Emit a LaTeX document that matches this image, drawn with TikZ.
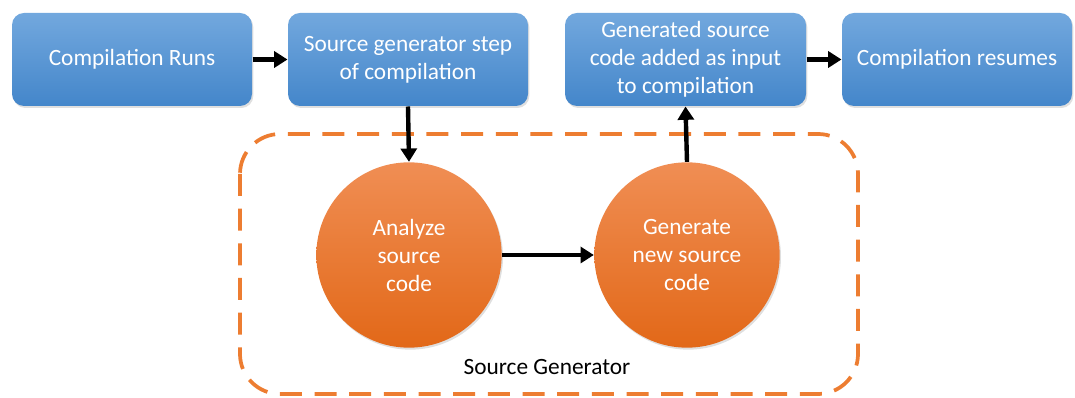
\documentclass[tikz,border=0pt]{standalone}
\usepackage{fontspec}
\setmainfont{Carlito}
\usetikzlibrary{arrows.meta,shadows}

\definecolor{boxtop}{RGB}{114,168,222}
\definecolor{boxbot}{RGB}{68,134,202}
\definecolor{ovaltop}{RGB}{240,142,84}
\definecolor{ovalbot}{RGB}{226,104,24}
\definecolor{dashorange}{RGB}{237,125,49}

\tikzset{every picture/.style={line width=0.75pt}}
\tikzset{
  stepbox/.style={rounded corners=9pt, top color=boxtop, bottom color=boxbot, draw=none,
    minimum height=69.75pt, text=white, align=center,
    font=\fontsize{17.5}{21}\selectfont,
    drop shadow={opacity=0.25, shadow xshift=1pt, shadow yshift=-1.5pt}},
  stepoval/.style={circle, top color=ovaltop, bottom color=ovalbot, draw=none,
    minimum size=139pt, inner sep=0pt, text=white, align=center,
    font=\fontsize{17.5}{21}\selectfont,
    drop shadow={opacity=0.25, shadow xshift=1pt, shadow yshift=-1.5pt}},
  flow/.style={line width=3.3pt, -{Triangle[length=10pt,width=12pt]}},
}

\begin{document}
\begin{tikzpicture}[x=0.75pt,y=0.75pt,yscale=-1,xscale=1]
	\path[use as bounding box] (0,0) rectangle (1075,398);
	
	%Rounded Rect dashed
	\draw [dashorange, line width=2.8pt, dash pattern={on 16.5pt off 9.5pt}, rounded corners=30pt]  (240,134) rectangle (858,394) ;
	
	% Boxes
	\node [stepbox, minimum width=180pt] (runs) at (132,59.5) {Compilation Runs};
	\node [stepbox, minimum width=180pt] (genstep) at (408,59.5) {Source generator step\\of compilation};
	\node [stepbox, minimum width=180.75pt] (added) at (685.5,59.5) {Generated source\\code added as input\\to compilation};
	\node [stepbox, minimum width=172.5pt] (resumes) at (957,59.5) {Compilation resumes};
	
	% Circles
	\node [stepoval] (analyze) at (409,255) {Analyze\\source\\code};
	\node [stepoval] (generate) at (687,255) {Generate\\new source\\code};
	
	% Text Node
	\node [font=\fontsize{17.5}{21}\selectfont] (srcgen) at (547,367) {Source Generator};
	
	% Arrows
	\draw [flow] (runs) -- (genstep) ;
	\draw [flow] (genstep.south) -- (analyze.north) ;
	\draw [flow] (analyze) -- (generate) ;
	\draw [flow] (generate.north) -- (added.south) ;
	\draw [flow] (added) -- (resumes) ;
	
\end{tikzpicture}
\end{document}
